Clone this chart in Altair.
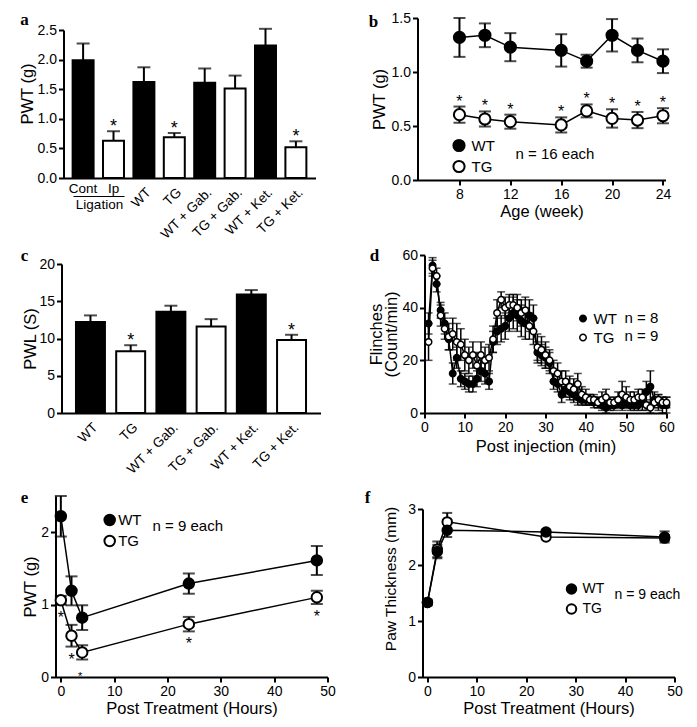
import altair as alt
import pandas as pd

FONT = 'Liberation Sans'
SERIF = 'Liberation Serif'
GRP_SCALE = alt.Scale(domain=['WT', 'TG'], range=['black', 'white'])
LAB = 14      # tick label size
TIT = 16.5    # axis title size

# ---------------- data ----------------
# panel a
a_cats = ['Cont', 'Ip', 'WT', 'TG', 'WT + Gab.', 'TG + Gab.', 'WT + Ket.', 'TG + Ket.']
a_group = ['WT', 'TG', 'WT', 'TG', 'WT', 'TG', 'WT', 'TG']
a_vals = [1.99, 0.63, 1.62, 0.69, 1.61, 1.51, 2.24, 0.52]
a_errs = [0.28, 0.16, 0.25, 0.07, 0.24, 0.22, 0.28, 0.10]
a_star = [0, 1, 0, 1, 0, 0, 0, 1]
a_lig = ['Cont', 'Ip']

# panel b
b_weeks = [8, 10, 12, 16, 18, 20, 22, 24]
b_wt = [1.32, 1.34, 1.23, 1.20, 1.10, 1.34, 1.20, 1.10]
b_wt_err = [0.18, 0.11, 0.13, 0.15, 0.06, 0.15, 0.11, 0.11]
b_tg = [0.605, 0.565, 0.54, 0.51, 0.64, 0.57, 0.555, 0.595]
b_tg_err = [0.075, 0.07, 0.065, 0.07, 0.06, 0.085, 0.075, 0.07]

# panel c
c_cats = ['WT', 'TG', 'WT + Gab.', 'TG + Gab.', 'WT + Ket.', 'TG + Ket.']
c_group = ['WT', 'TG', 'WT', 'TG', 'WT', 'TG']
c_vals = [12.2, 8.3, 13.6, 11.6, 15.9, 9.8]
c_errs = [0.9, 0.8, 0.8, 1.0, 0.6, 0.7]
c_star = [0, 1, 0, 0, 0, 1]

# panel d
d_min = list(range(1, 61))
d_wt = [34, 56, 49, 39, 34, 28, 15, 21, 13, 12, 11, 11, 13, 16, 15, 12, 27, 31, 32, 33,
        36, 38, 37, 35, 34, 37, 36, 23, 22, 21, 19, 12, 11, 7, 9, 8, 7, 6, 5, 5,
        5, 4, 4, 3, 2, 3, 3, 4, 3, 4, 3, 3, 3, 4, 8, 10, 5, 4, 3, 3]
d_wt_err = [4, 3, 3, 3, 4, 4, 4, 4, 3, 3, 3, 3, 3, 4, 4, 3, 4, 5, 5, 5,
            5, 6, 6, 6, 6, 6, 5, 4, 4, 4, 4, 3, 3, 3, 3, 3, 3, 3, 2, 2,
            2, 2, 2, 2, 2, 2, 2, 2, 2, 2, 2, 2, 2, 3, 4, 6, 3, 3, 3, 3]
d_tg = [27, 55, 52, 37, 32, 29, 30, 27, 26, 22, 20, 22, 18, 22, 20, 21, 28, 38, 43, 40,
        41, 41, 40, 38, 39, 33, 31, 25, 24, 22, 20, 16, 15, 12, 12, 10, 9, 11, 7, 6,
        5, 5, 4, 5, 6, 4, 4, 5, 7, 6, 5, 5, 6, 6, 3, 2, 4, 5, 4, 4]
d_tg_err = [7, 3, 3, 4, 4, 5, 6, 7, 6, 6, 5, 5, 5, 5, 5, 5, 5, 5, 3, 4,
            4, 4, 5, 5, 5, 5, 5, 5, 5, 5, 4, 4, 4, 4, 4, 4, 4, 4, 3, 3,
            2, 2, 2, 3, 3, 2, 2, 3, 5, 4, 3, 3, 3, 3, 2, 2, 2, 2, 2, 2]

# panel e
e_hours = [0, 2, 4, 24, 48]
e_wt = [2.22, 1.19, 0.82, 1.29, 1.61]
e_wt_err = [0.28, 0.20, 0.17, 0.14, 0.20]
e_tg = [1.06, 0.57, 0.34, 0.73, 1.10]
e_tg_err = [0.06, 0.15, 0.10, 0.10, 0.09]
e_star_size = [16, 16, 11, 16, 16]

# panel f
f_hours = [0, 2, 4, 24, 48]
f_wt = [1.33, 2.24, 2.62, 2.59, 2.50]
f_wt_err = [0.05, 0.12, 0.12, 0.04, 0.10]
f_tg = [1.33, 2.28, 2.77, 2.50, 2.48]
f_tg_err = [0.05, 0.14, 0.16, 0.04, 0.05]


# ---------------- helpers ----------------
def panel_label(text, x, y):
    return alt.Chart(pd.DataFrame({'t': [text]})).mark_text(
        font=SERIF, fontWeight='bold', fontSize=17, align='center', baseline='middle', color='black'
    ).encode(text='t:N', x=alt.value(x), y=alt.value(y))


def note(text, x, y, size=15):
    return alt.Chart(pd.DataFrame({'t': [text]})).mark_text(
        font=FONT, fontSize=size, align='left', baseline='middle', color='black'
    ).encode(text='t:N', x=alt.value(x), y=alt.value(y))


def vtitle(text, x, y, size=TIT):
    return alt.Chart(pd.DataFrame({'t': [text]})).mark_text(
        font=FONT, fontSize=size, align='center', baseline='middle', angle=270, color='black'
    ).encode(text='t:N', x=alt.value(x), y=alt.value(y))


def yaxis(values, fmt, title, tp, **kw):
    return alt.Axis(values=values, format=fmt, title=title, titlePadding=tp, labelOverlap=False, **kw)


def bar_panel(cats, groups, vals, errs, stars, ymax, yvals, yfmt, ytitle, ytp,
              W, H, top, pi, po, cap, xshift=0):
    df = pd.DataFrame({'cat': cats, 'grp': groups, 'val': vals, 'err': errs, 'star': stars})
    df['top'] = df['val'] + df['err']
    x = alt.X('cat:N', sort=cats,
              scale=alt.Scale(domain=cats, paddingInner=pi, paddingOuter=po, range=[-xshift, W]),
              axis=alt.Axis(title=None, labelAngle=-45, labelAlign='right', labelBaseline='top',
                            labelExpr="datum.value == 'Cont' || datum.value == 'Ip' ? '' : datum.value",
                            ticks=False, labelPadding=7, labelFontSize=13.5))
    ysc = alt.Scale(domain=[0, ymax], nice=False, range=[H, top])
    yax = yaxis(yvals, yfmt, ytitle, ytp, offset=xshift)
    y = alt.Y('val:Q', scale=ysc, axis=yax)
    ytop = alt.Y('top:Q', scale=ysc, axis=yax)
    base = alt.Chart(df)
    bars = base.mark_bar(stroke='black', strokeWidth=2).encode(
        x=x, y=y, fill=alt.Fill('grp:N', scale=GRP_SCALE, legend=None))
    rule = base.mark_rule(color='black', strokeWidth=2).encode(x=x, y=y, y2='top:Q')
    caps = base.mark_tick(color='black', orient='horizontal', size=cap, thickness=2).encode(x=x, y=ytop)
    star = base.transform_filter('datum.star == 1').mark_text(
        text='*', font=FONT, fontSize=18, baseline='alphabetic', dy=1, color='black'
    ).encode(x=x, y=ytop)
    return [bars, rule, caps, star], x


def long_df(xs, wt, wt_err, tg, tg_err):
    rows = []
    for i, xv in enumerate(xs):
        rows.append({'x': xv, 'grp': 'WT', 'val': wt[i], 'err': wt_err[i]})
    for i, xv in enumerate(xs):
        rows.append({'x': xv, 'grp': 'TG', 'val': tg[i], 'err': tg_err[i]})
    df = pd.DataFrame(rows)
    df['lo'] = (df['val'] - df['err']).clip(lower=0)
    df['hi'] = df['val'] + df['err']
    return df


def line_layers(df, x, ysc, yax, size, cap, sw, legend):
    y = alt.Y('val:Q', scale=ysc, axis=yax)
    ylo = alt.Y('lo:Q', scale=ysc, axis=yax)
    yhi = alt.Y('hi:Q', scale=ysc, axis=yax)
    base = alt.Chart(df)
    rule = base.mark_rule(color='black', strokeWidth=sw).encode(x=x, y=ylo, y2='hi:Q')
    cap_lo = base.mark_tick(color='black', orient='horizontal', size=cap, thickness=sw).encode(x=x, y=ylo)
    cap_hi = base.mark_tick(color='black', orient='horizontal', size=cap, thickness=sw).encode(x=x, y=yhi)
    line = base.mark_line(color='black', strokeWidth=1.5).encode(x=x, y=y, detail='grp:N')
    pts = base.mark_circle(size=size, stroke='black', strokeWidth=sw, opacity=1, fillOpacity=1).encode(
        x=x, y=y, fill=alt.Fill('grp:N', scale=GRP_SCALE, legend=legend),
        order=alt.Order('ord:Q'))
    return [rule, cap_lo, cap_hi, line, pts], ylo, yhi


def leg(lx, ly, size, fs, offset, rowpad, sw=2):
    return alt.Legend(title=None, orient='none', legendX=lx, legendY=ly, symbolType='circle',
                      symbolSize=size, symbolStrokeColor='black', symbolStrokeWidth=sw,
                      labelFont=FONT, labelFontSize=fs, labelColor='black', labelOffset=offset,
                      rowPadding=rowpad, padding=0, symbolOffset=0)


# ---------------- panel a ----------------
aW, aH = 252, 160
a_layers, a_x = bar_panel(a_cats, a_group, a_vals, a_errs, a_star, 2.5, [0, 0.5, 1, 1.5, 2, 2.5],
                          '.1f', None, 0.5, aW, aH, 12, 0.31, 0.3, 13)
lig_txt = alt.Chart(pd.DataFrame({'cat': a_lig})).mark_text(
    font=FONT, fontSize=13.5, baseline='middle', color='black').encode(
    x=a_x, y=alt.value(171), text='cat:N')
lig_rule = alt.Chart(pd.DataFrame({'t': ['Ligation']})).mark_rule(color='black', strokeWidth=1).encode(
    x=alt.value(10), x2=alt.value(61), y=alt.value(178.5))
lig_lab = alt.Chart(pd.DataFrame({'t': ['Ligation']})).mark_text(
    font=FONT, fontSize=13.5, baseline='middle', color='black').encode(
    text='t:N', x=alt.value(36), y=alt.value(186.5))
panel_a = alt.layer(*a_layers, lig_txt, lig_rule, lig_lab, vtitle('PWT (g)', -35.5, 76),
                    panel_label('a', -39, 2)).properties(width=aW, height=aH)

# ---------------- panel b ----------------
bW, bH = 248, 162
dfb = long_df(b_weeks, b_wt, b_wt_err, b_tg, b_tg_err)
dfb['ord'] = (dfb['grp'] == 'TG').astype(int)
bx = alt.X('x:Q', scale=alt.Scale(domain=[4.7, 24.2], nice=False, zero=False),
           axis=alt.Axis(values=[8, 12, 16, 20, 24], title='Age (week)', titlePadding=2))
bsc = alt.Scale(domain=[0, 1.5], nice=False)
bax = yaxis([0, 0.5, 1, 1.5], '.1f', 'PWT (g)', 4)
b_layers, b_lo, b_hi = line_layers(dfb, bx, bsc, bax, 125, 12, 2, leg(34, 120, 125, 15, 5, 0))
b_star = alt.Chart(dfb).transform_filter("datum.grp == 'TG'").mark_text(
    text='*', font=FONT, fontSize=16, baseline='alphabetic', dy=0, color='black').encode(
    x=bx, y=b_hi)
panel_b = alt.layer(*b_layers, b_star, note('n = 16 each', 98, 136), panel_label('b', -44, 4)).properties(
    width=bW, height=bH)

# ---------------- panel c ----------------
cW, cH = 257, 158
c_layers, c_x = bar_panel(c_cats, c_group, c_vals, c_errs, c_star, 20, [0, 5, 10, 15, 20],
                          'd', 'PWL (S)', 0.5, cW, cH, 9, 0.28, 0.36, 13, xshift=2)
panel_c = alt.layer(*c_layers, panel_label('c', -39, 1)).properties(width=cW, height=cH)

# ---------------- panel d ----------------
dW, dH = 242, 158
dfd = long_df(d_min, d_wt, d_wt_err, d_tg, d_tg_err)
dfd['ord'] = (dfd['grp'] == 'TG').astype(int)
dx = alt.X('x:Q', scale=alt.Scale(domain=[0, 60], nice=False),
           axis=alt.Axis(values=[0, 10, 20, 30, 40, 50, 60], title='Post injection (min)', titlePadding=4))
dsc = alt.Scale(domain=[0, 60], nice=False)
dax = yaxis([0, 20, 40, 60], 'd', ['Flinches', '(Count/min)'], 2.5, titleLineHeight=15)
d_layers, _, _ = line_layers(dfd, dx, dsc, dax, 42, 8, 1.5, leg(151, 56, 42, 15, 3, 3, 1.5))
panel_d = alt.layer(*d_layers, note('n = 8', 200, 63), note('n = 9', 200, 81),
                    panel_label('d', -50, 1)).properties(width=dW, height=dH)

# ---------------- panel e ----------------
eW, eH, eS = 264, 181, 8
dfe = long_df(e_hours, e_wt, e_wt_err, e_tg, e_tg_err)
dfe['ord'] = (dfe['grp'] == 'TG').astype(int)
dfe['ss'] = e_star_size + e_star_size
ex = alt.X('x:Q', scale=alt.Scale(domain=[-1, 50], nice=False, zero=False, range=[-eS, eW]),
           axis=alt.Axis(values=[0, 10, 20, 30, 40, 50], title='Post Treatment (Hours)', titlePadding=2))
esc = alt.Scale(domain=[0, 2.5], nice=False)
eax = yaxis([0, 1, 2], 'd', 'PWT (g)', 2.5, offset=eS)
e_layers, e_lo, _ = line_layers(dfe, ex, esc, eax, 110, 12, 2, leg(38.7, 16.5, 110, 15, 1, 2))
e_star_big = alt.Chart(dfe).transform_filter("datum.grp == 'TG' && datum.ss > 12").mark_text(
    text='*', font=FONT, fontSize=16, baseline='alphabetic', dy=18, color='black').encode(
    x=ex, y=e_lo)
e_star_small = alt.Chart(dfe).transform_filter("datum.grp == 'TG' && datum.ss <= 12").mark_text(
    text='*', font=FONT, fontSize=11, baseline='alphabetic', dy=20, dx=-2, color='black').encode(
    x=ex, y=e_lo)
panel_e = alt.layer(*e_layers, e_star_big, e_star_small, note('n = 9 each', 89, 30),
                    panel_label('e', -39, 2)).properties(width=eW, height=eH)

# ---------------- panel f ----------------
fW, fH = 252, 181
dff = long_df(f_hours, f_wt, f_wt_err, f_tg, f_tg_err)
dff['ord'] = (dff['grp'] == 'WT').astype(int)
fx = alt.X('x:Q', scale=alt.Scale(domain=[-1, 50], nice=False, zero=False),
           axis=alt.Axis(values=[0, 10, 20, 30, 40, 50], title='Post Treatment (Hours)', titlePadding=2))
fsc = alt.Scale(domain=[0, 3], nice=False, range=[fH, 13])
fax = yaxis([0, 1, 2, 3], 'd', None, 8)
f_layers, _, _ = line_layers(dff, fx, fsc, fax, 90, 10, 2, leg(142, 86, 90, 14, 4, 2))
panel_f = alt.layer(*f_layers, note('n = 9 each', 192, 99, 14),
                    vtitle('Paw Thickness (mm)', -31.5, 83, 15.5),
                    panel_label('f', -55, 2)).properties(width=fW, height=fH)


def row(l, r, sp):
    return alt.hconcat(l, r, spacing=sp).resolve_scale(fill='independent').resolve_legend(fill='independent')


top = alt.concat(row(panel_a, panel_b, 53), row(panel_c, panel_d, 45), columns=1, align='none',
                 spacing=6).resolve_scale(fill='independent').resolve_legend(fill='independent')
chart = alt.concat(top, row(panel_e, panel_f, 29), columns=1, align='none', spacing=13).resolve_scale(
    fill='independent').resolve_legend(fill='independent').properties(
    padding={'left': 11.5, 'top': 3, 'right': 5, 'bottom': 5}
).configure_view(stroke=None).configure_axis(
    grid=False, domainColor='black', domainWidth=2, tickColor='black', tickWidth=2, tickSize=5,
    labelFont=FONT, labelFontSize=LAB, labelColor='black', labelPadding=2, labelFlush=False,
    labelOverlap=False,
    titleFont=FONT, titleFontSize=TIT, titleFontWeight='normal', titleColor='black'
)

chart.save('out.html', embed_options={'renderer': 'svg', 'actions': False})
